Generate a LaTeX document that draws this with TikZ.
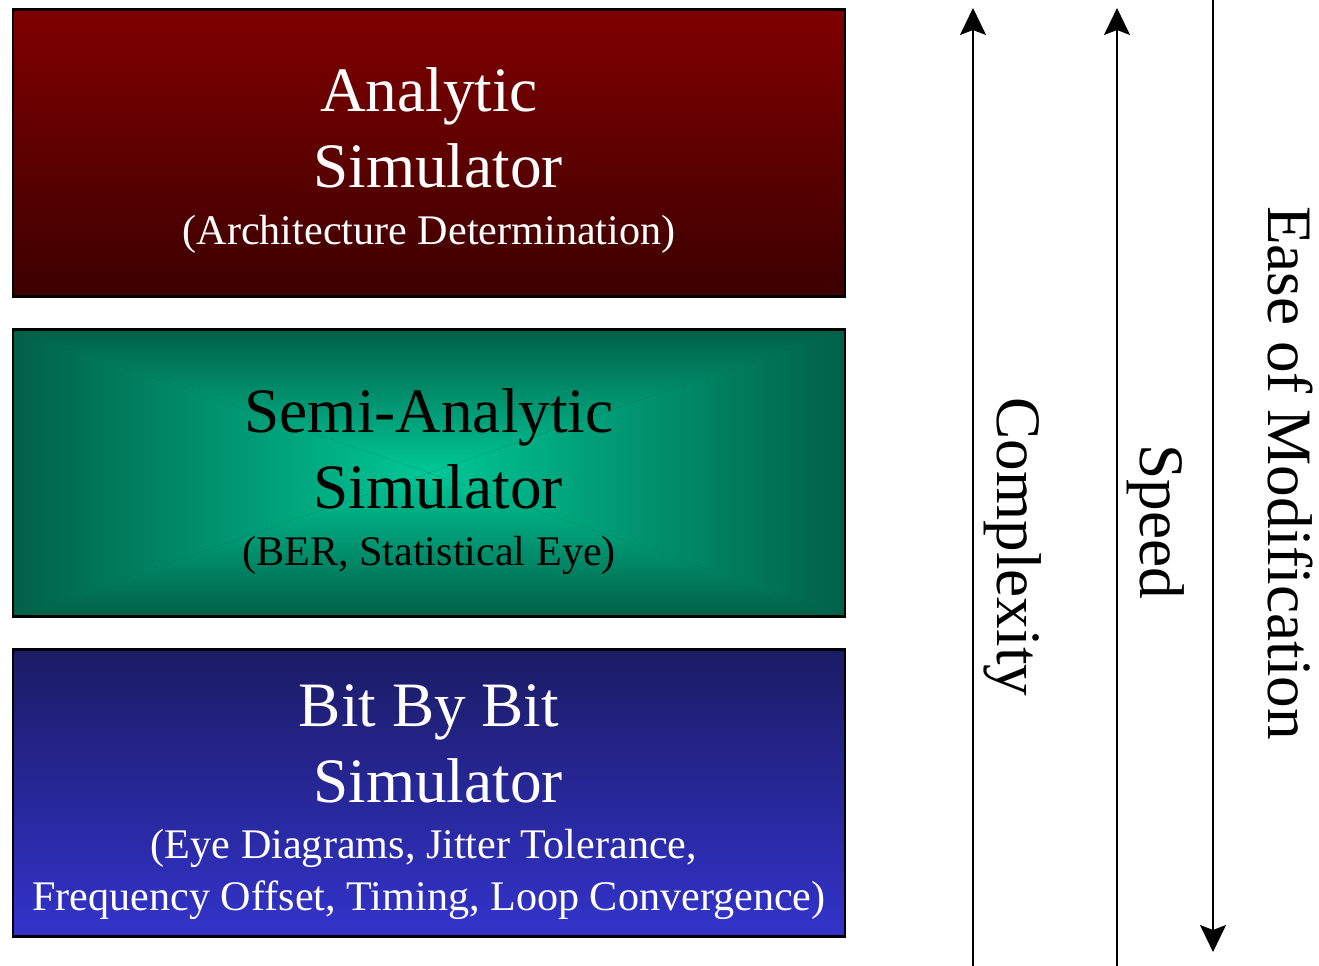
\documentclass[tikz,border=0pt]{standalone}
\usepackage{fontspec}
\setmainfont{Liberation Serif}
\usetikzlibrary{arrows.meta}

\definecolor{anatop}{RGB}{128,0,0}
\definecolor{anabot}{RGB}{60,0,0}
\definecolor{semiedge}{RGB}{0,96,72}
\definecolor{semimid}{RGB}{0,200,150}
\definecolor{bitstop}{RGB}{27,27,100}
\definecolor{bitsbot}{RGB}{51,51,204}

\begin{document}
\begin{tikzpicture}[x=0.02cm, y=-0.02cm,
    simbox/.style={draw=black, line width=1.5pt, minimum width=16.64cm,
      minimum height=5.74cm, inner sep=0pt},
    bigtext/.style={font=\fontsize{36}{40}\selectfont, anchor=base, inner sep=0pt},
    smalltext/.style={font=\fontsize{24}{28}\selectfont, anchor=base, inner sep=0pt},
    axislabel/.style={font=\fontsize{36}{40}\selectfont, anchor=base,
      inner sep=0pt, rotate=-90},
    axisarrow/.style={line width=1.1pt,
      -{Stealth[length=0.54cm, width=0.52cm, inset=0.1cm]}}]

        \useasboundingbox (0,0) rectangle (1319,966);

        % Analytic simulator box.
        \node[simbox, top color=anatop, bottom color=anabot] (analytic) at (429,153) {};
        \node[bigtext, white] (analytic-l1) at (429,112) {Analytic};
        \node[bigtext, white] (analytic-l2) at (438,188) {Simulator};
        \node[smalltext, white] (analytic-l3) at (429,245) {(Architecture Determination)};

        % Semi-analytic simulator box, shaded from the centre out.
        \node[simbox, fill=semiedge, path picture={
            \coordinate (nw) at (path picture bounding box.north west);
            \coordinate (ne) at (path picture bounding box.north east);
            \coordinate (sw) at (path picture bounding box.south west);
            \coordinate (se) at (path picture bounding box.south east);
            \coordinate (c) at (path picture bounding box.center);
            \begin{scope}
              \clip (nw) -- (ne) -- (c) -- cycle;
              \fill[top color=semiedge, bottom color=semimid]
              (nw) rectangle (path picture bounding box.east);
            \end{scope}
            \begin{scope}
              \clip (sw) -- (se) -- (c) -- cycle;
              \fill[top color=semimid, bottom color=semiedge]
              (path picture bounding box.west) rectangle (se);
            \end{scope}
            \begin{scope}
              \clip (nw) -- (sw) -- (c) -- cycle;
              \fill[left color=semiedge, right color=semimid]
              (nw) rectangle (path picture bounding box.south);
            \end{scope}
            \begin{scope}
              \clip (ne) -- (se) -- (c) -- cycle;
              \fill[left color=semimid, right color=semiedge]
              (path picture bounding box.north) rectangle (se);
            \end{scope}
          }] (semi) at (429,473) {};
        \node[bigtext] (semi-l1) at (429,432) {Semi-Analytic};
        \node[bigtext] (semi-l2) at (438,508) {Simulator};
        \node[smalltext] (semi-l3) at (429,565) {(BER, Statistical Eye)};

        % Bit by bit simulator box.
        \node[simbox, top color=bitstop, bottom color=bitsbot] (bits) at (429,793) {};
        \node[bigtext, white] (bits-l1) at (429,726) {Bit By Bit};
        \node[bigtext, white] (bits-l2) at (438,802) {Simulator};
        \node[smalltext, white] (bits-l3) at (424,858) {(Eye Diagrams, Jitter Tolerance,};
        \node[smalltext, white] (bits-l4) at (429,910) {Frequency Offset, Timing, Loop Convergence)};

        % Trend arrows.
        \coordinate (cplx-foot) at (973,980);
        \coordinate (cplx-head) at (973,8);
        \draw[axisarrow] (cplx-foot) -- (cplx-head);
        \node[axislabel] (cplx) at (997,547) {Complexity};

        \coordinate (speed-foot) at (1117,980);
        \coordinate (speed-head) at (1117,8);
        \draw[axisarrow] (speed-foot) -- (speed-head);
        \node[axislabel] (speed) at (1140,522) {Speed};

        \coordinate (ease-foot) at (1213,-10);
        \coordinate (ease-head) at (1213,952);
        \draw[axisarrow] (ease-foot) -- (ease-head);
        \node[axislabel] (ease) at (1268,473) {Ease of Modification};
\end{tikzpicture}
\end{document}
